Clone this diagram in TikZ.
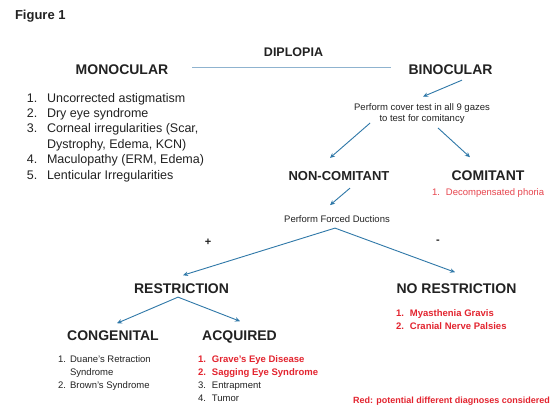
\documentclass[tikz,border=0pt]{standalone}
\usepackage{fontspec}
\setmainfont{Liberation Sans}
\usetikzlibrary{arrows.meta,calc}
\definecolor{arrowblue}{HTML}{2F78A8}
\definecolor{lineblue}{HTML}{8FB3CF}
\definecolor{redtxt}{HTML}{E3242F}
\definecolor{txt}{HTML}{222222}
\begin{document}
\begin{tikzpicture}[x=1pt,y=-1pt,
  every node/.style={inner sep=0pt,outer sep=0pt,text=txt},
  head/.style={font=\fontsize{14}{16}\selectfont\bfseries,anchor=base},
  small/.style={font=\fontsize{9.5}{10.5}\selectfont,align=center},
  listbig/.style={font=\fontsize{12.5}{15.4}\selectfont,anchor=base west},
  listsmall/.style={font=\fontsize{9.5}{13}\selectfont,anchor=base west},
  arr/.style={draw=arrowblue,line width=0.9pt,-{Stealth[length=5pt,width=4.5pt]}},
  plain/.style={draw=lineblue,line width=1.1pt}]
\useasboundingbox (0,0) rectangle (559,408);
\fill[white] (0,0) rectangle (559,408);

\node[anchor=base west,font=\fontsize{13}{15}\selectfont\bfseries] (fig) at (15,19) {Figure 1};

\node[head,font=\fontsize{12.5}{15}\selectfont\bfseries] (dip) at (293.5,56) {DIPLOPIA};
\node[head] (monoc) at (122,74) {MONOCULAR};
\node[head] (binoc) at (450.5,74) {BINOCULAR};

\node[listbig] (mlist) at (27,102) {\begin{tabular}[t]{@{}r@{\hspace{9.6pt}}l@{}}
1. & Uncorrected astigmatism\\
2. & Dry eye syndrome\\
3. & Corneal irregularities (Scar,\\
   & Dystrophy, Edema, KCN)\\
4. & Maculopathy (ERM, Edema)\\
5. & Lenticular Irregularities
\end{tabular}};

\node[small,anchor=base] (cover) at (422,121) {Perform cover test in all 9 gazes\\to test for comitancy};

\node[head,font=\fontsize{13}{15}\selectfont\bfseries] (noncom) at (339,180) {NON-COMITANT};
\node[head] (comit) at (488,180) {COMITANT};
\node[listsmall,text=redtxt!85] (clist) at (432,195) {\begin{tabular}[t]{@{}r@{\hspace{6pt}}l@{}}
1. & Decompensated phoria
\end{tabular}};

\node[small,anchor=base] (forced) at (337,222) {Perform Forced Ductions};
\node[font=\fontsize{11}{12}\selectfont\bfseries] (plus) at (208,242) {+};
\node[font=\fontsize{11}{12}\selectfont\bfseries] (minus) at (438,242) {-};

\node[head] (restr) at (181.5,293) {RESTRICTION};
\node[head] (norestr) at (456.5,293) {NO RESTRICTION};

\node[listsmall,text=redtxt,font=\fontsize{9.5}{13}\selectfont\bfseries] (nlist) at (396,316) {\begin{tabular}[t]{@{}r@{\hspace{6pt}}l@{}}
1. & Myasthenia Gravis\\
2. & Cranial Nerve Palsies
\end{tabular}};

\node[head] (cong) at (113,340) {CONGENITAL};
\node[head] (acq) at (239.5,340) {ACQUIRED};

\node[listsmall] (conglist) at (58,362) {\begin{tabular}[t]{@{}r@{\hspace{4.2pt}}l@{}}
1. & Duane's Retraction\\
   & Syndrome\\
2. & Brown's Syndrome
\end{tabular}};

\node[listsmall] (acqlist) at (198,362) {\begin{tabular}[t]{@{}r@{\hspace{6pt}}l@{}}
\textcolor{redtxt}{\bfseries 1.} & \textcolor{redtxt}{\bfseries Grave's Eye Disease}\\
\textcolor{redtxt}{\bfseries 2.} & \textcolor{redtxt}{\bfseries Sagging Eye Syndrome}\\
3. & Entrapment\\
4. & Tumor
\end{tabular}};

\node[anchor=base west,text=redtxt,font=\fontsize{9}{11}\selectfont\bfseries] (note) at (353,403) {Red: potential different diagnoses considered};

% connectors
\draw[plain] ($(monoc.east)+(24,-2)$) -- ($(binoc.west)+(-18,-2)$);
\draw[arr] ($(binoc.south)+(11.5,6)$) -- ($(cover.north)+(1,-7)$);
\draw[arr] ($(cover.south west)+(16,0)$) -- ($(noncom.north)+(-9,-13)$);
\draw[arr] ($(cover.south)+(16,5)$) -- ($(comit.north)+(-18,-13)$);
\draw[arr] ($(noncom.south)+(11,8)$) -- ($(forced.north)+(-7,-10)$);
\coordinate (split) at ($(forced.south)+(-2,6)$);
\draw[arr] (split) -- ($(restr.north)+(1.5,-8)$);
\draw[arr] (split) -- ($(norestr.north)+(-1.5,-11)$);
\coordinate (rsplit) at ($(restr.south)+(-3.5,4)$);
\draw[arr] (rsplit) -- ($(cong.north)+(4,-7)$);
\draw[arr] (rsplit) -- ($(acq.north)+(0.5,-9)$);
\end{tikzpicture}
\end{document}
